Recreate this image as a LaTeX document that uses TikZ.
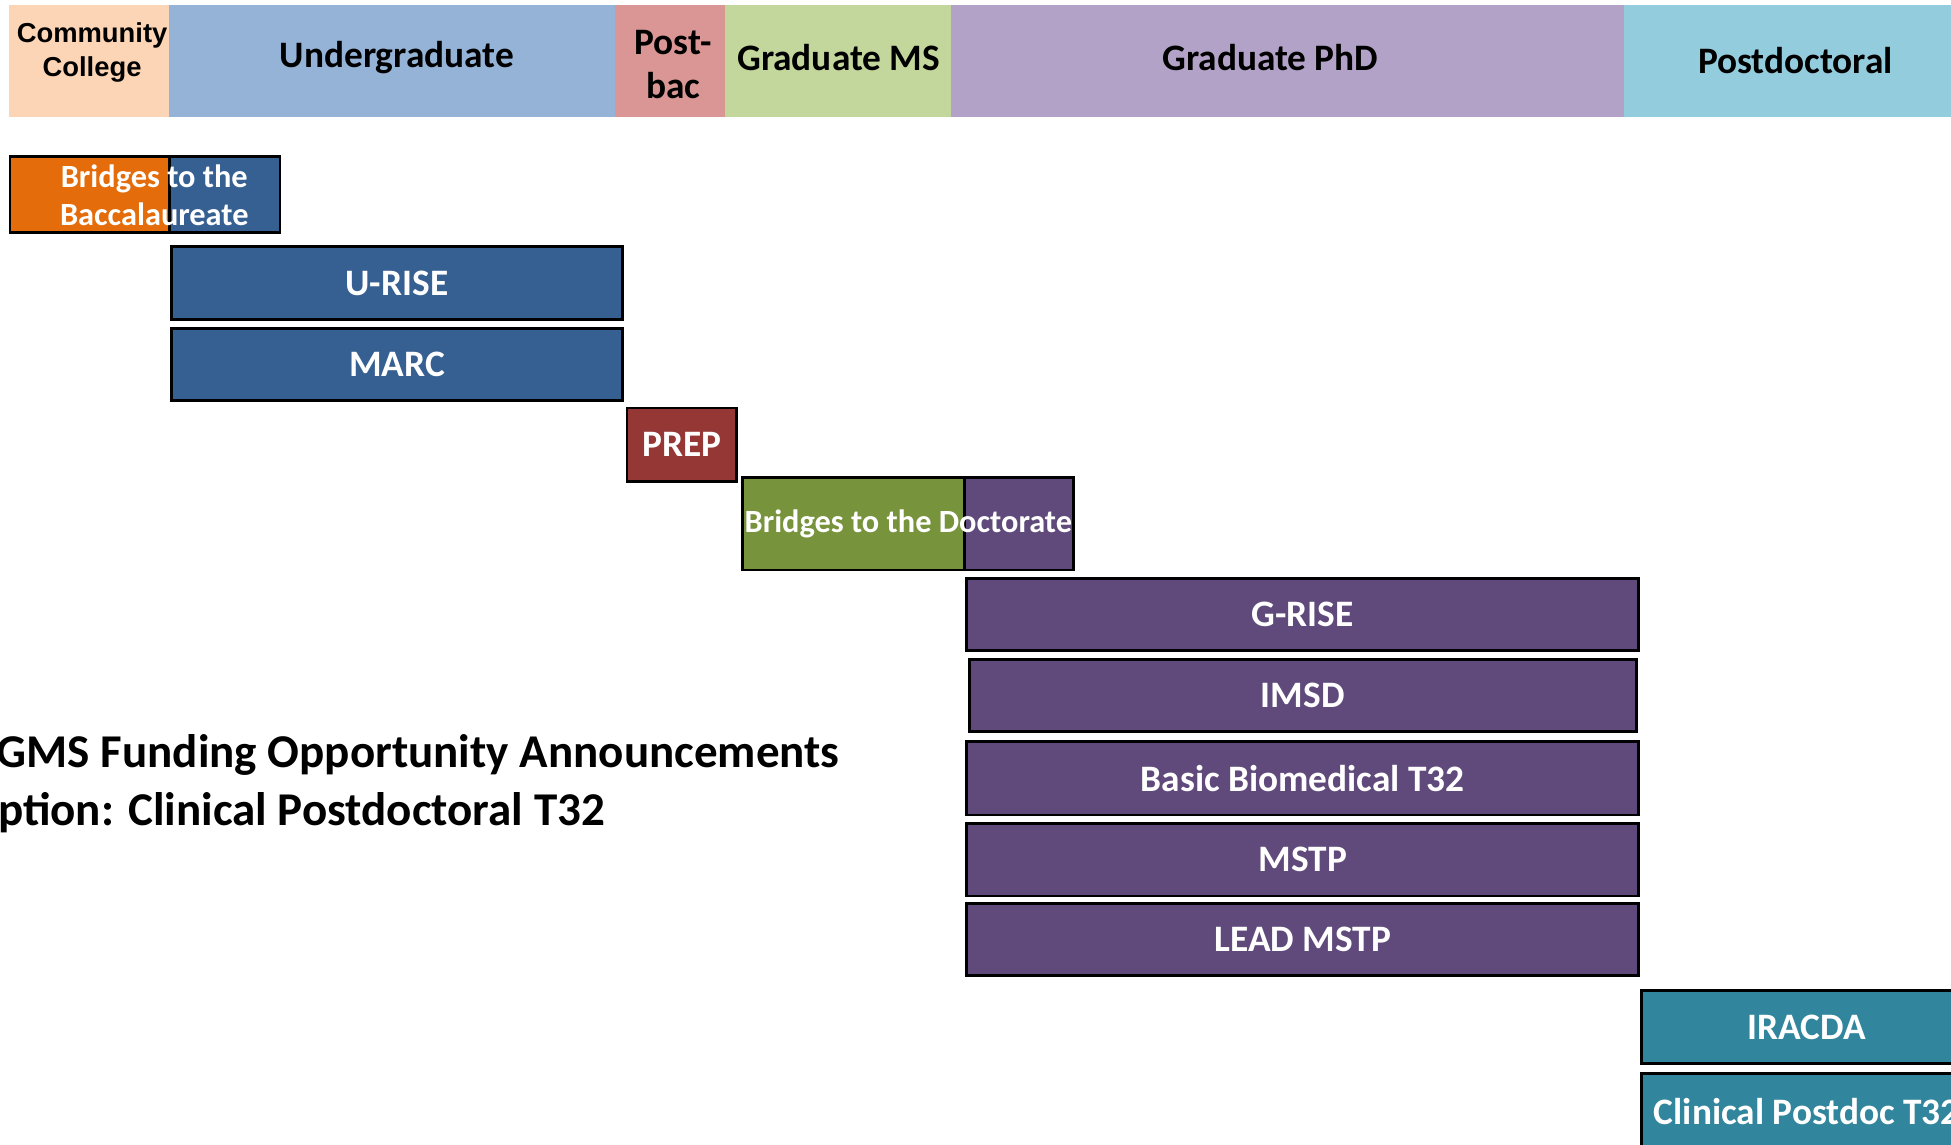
\documentclass[tikz,border=0pt]{standalone}
\usepackage{fontspec}
\setmainfont{Carlito}
\newfontfamily\arialfont{Liberation Sans}
\usetikzlibrary{fit}
\definecolor{ccC}{HTML}{FBD5B5}
\definecolor{ugC}{HTML}{95B3D7}
\definecolor{pbC}{HTML}{D99694}
\definecolor{msC}{HTML}{C3D69B}
\definecolor{phdC}{HTML}{B2A2C7}
\definecolor{pdC}{HTML}{93CDDD}
\definecolor{orangeC}{HTML}{E46C0A}
\definecolor{blueC}{HTML}{376092}
\definecolor{prepC}{HTML}{953735}
\definecolor{greenC}{HTML}{77933C}
\definecolor{purpleC}{HTML}{604A7B}
\definecolor{tealC}{HTML}{31859C}
\tikzset{
  band/.style={inner sep=0pt, outer sep=0pt},
  hdr/.style={inner sep=0pt, outer sep=0pt, font=\bfseries\fontsize{15}{17}\selectfont, text=black, align=center},
  bar/.style={draw=black, line width=1.1pt, inner sep=0pt, outer sep=0pt},
  bartext/.style={inner sep=0pt, font=\bfseries\fontsize{15}{17}\selectfont, text=white, align=center},
  bigtext/.style={inner sep=0pt, anchor=west, font=\bfseries\fontsize{18.9}{22}\selectfont, text=black}
}
\begin{document}
\begin{tikzpicture}[x=0.5pt,y=-0.5pt]
\useasboundingbox (0,0) rectangle (1568,920);
% header bands
\node[band, fill=ccC, fit={(7,4) (136,94)}] (cc) {};
\node[band, fill=ugC, fit={(136,4) (494,94)}] (ug) {};
\node[band, fill=pbC, fit={(494,4) (583,94)}] (pb) {};
\node[band, fill=msC, fit={(583,4) (764,94)}] (ms) {};
\node[band, fill=phdC, fit={(764,4) (1305,94)}] (phd) {};
\node[band, fill=pdC, fit={(1305,4) (1600,94)}] (pd) {};
\node[hdr, font=\arialfont\bfseries\fontsize{11}{13.5}\selectfont] (cct) at (74,42) {Community\\College};
\node[hdr] (ugt) at (319,46) {Undergraduate};
\node[hdr, font=\bfseries\fontsize{15}{17.5}\selectfont] (pbt) at (541,52) {Post-\\bac};
\node[hdr] (mst) at (674,46) {Graduate MS};
\node[hdr] (phdt) at (1021,46) {Graduate PhD};
\node[hdr] (pdt) at (1443,49) {Postdoctoral};
% Bridges to the Baccalaureate
\fill[orangeC] (8,126) rectangle (136,187);
\fill[blueC] (136,126) rectangle (225,187);
\draw[line width=1.1pt] (136,126) -- (136,187);
\node[bar, fit={(8,126) (225,187)}] (bbacc) {};
\node[bartext, font=\bfseries\fontsize{13}{15}\selectfont] (bbacct) at (124,157) {Bridges to the\\Baccalaureate};
% undergraduate bars
\node[bar, fill=blueC, fit={(138,198) (500,257)}] (urise) {};
\node[bartext] (uriset) at (urise.center) {U-RISE};
\node[bar, fill=blueC, fit={(138,264) (500,322)}] (marc) {};
\node[bartext] (marct) at (marc.center) {MARC};
\node[bar, fill=prepC, fit={(504,328) (592,387)}] (prep) {};
\node[bartext] (prept) at (prep.center) {PREP};
% Bridges to the Doctorate
\fill[greenC] (597,384) rectangle (775,458);
\fill[purpleC] (775,384) rectangle (863,458);
\draw[line width=1.1pt] (775,384) -- (775,458);
\node[bar, fit={(597,384) (863,458)}] (bdoc) {};
\node[bartext, font=\bfseries\fontsize{13}{15}\selectfont] (bdoct) at (bdoc.center) {Bridges to the Doctorate};
% graduate bars
\node[bar, fill=purpleC, fit={(777,465) (1317,523)}] (grise) {};
\node[bartext] (griset) at (grise.center) {G-RISE};
\node[bar, fill=purpleC, fit={(779,530) (1315,588)}] (imsd) {};
\node[bartext] (imsdt) at (imsd.center) {IMSD};
\node[bar, fill=purpleC, fit={(777,596) (1317,655)}] (bbt) {};
\node[bartext] (bbtt) at (bbt.center) {Basic Biomedical T32};
\node[bar, fill=purpleC, fit={(777,662) (1317,720)}] (mstp) {};
\node[bartext] (mstpt) at (mstp.center) {MSTP};
\node[bar, fill=purpleC, fit={(777,726) (1317,784)}] (lead) {};
\node[bartext] (leadt) at (lead.center) {LEAD MSTP};
% postdoctoral bars
\node[bar, fill=tealC, fit={(1319,796) (1585,855)}] (iracda) {};
\node[bartext] (iracdat) at (iracda.center) {IRACDA};
\node[bar, fill=tealC, fit={(1319,863) (1585,923)}] (clin) {};
\node[bartext] (clint) at (clin.center) {Clinical Postdoc T32};
% caption text
\node[bigtext] (cap1) at (-3,607) {GMS Funding Opportunity Announcements};
\node[bigtext] (cap2) at (-2,653) {ption: Clinical Postdoctoral T32};
\end{tikzpicture}
\end{document}
